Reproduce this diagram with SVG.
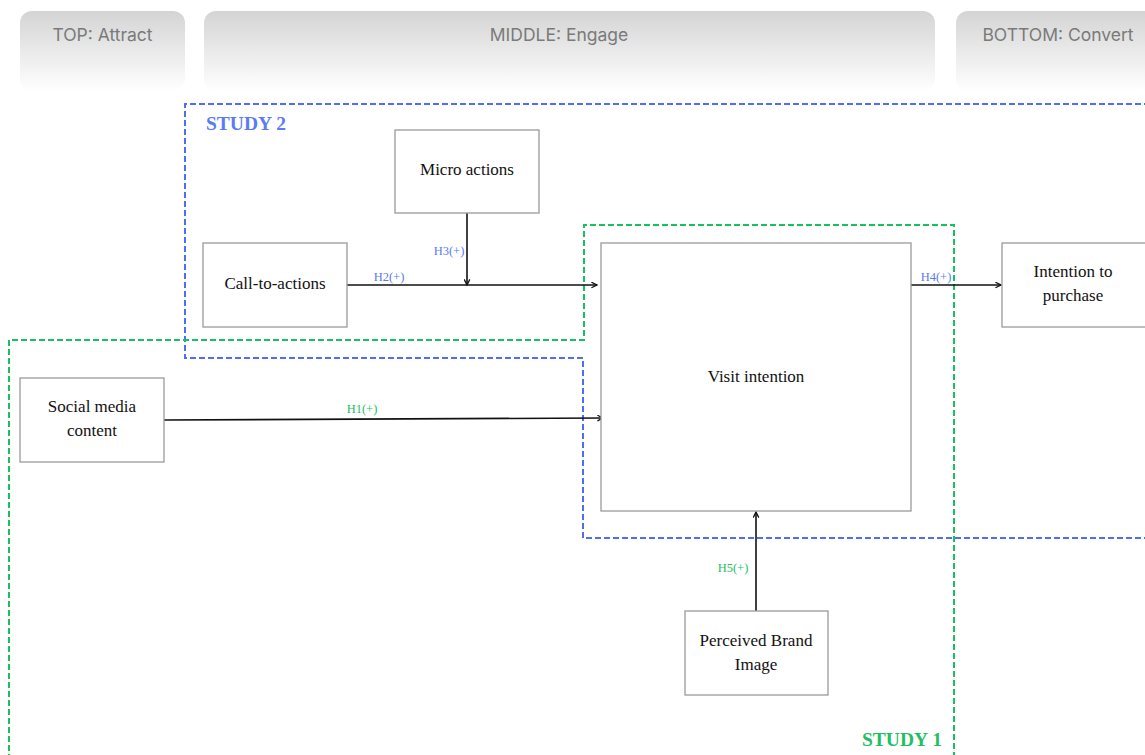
<svg xmlns="http://www.w3.org/2000/svg" width="1145" height="755" viewBox="0 0 1145 755">
  <defs>
    <linearGradient id="hdr" x1="0" y1="0" x2="0" y2="1">
      <stop offset="0" stop-color="#d4d4d4"/>
      <stop offset="1" stop-color="#ffffff"/>
    </linearGradient>
    <marker id="arr" viewBox="0 0 10 10" refX="9" refY="5" markerWidth="7" markerHeight="7" markerUnits="userSpaceOnUse" orient="auto">
      <path d="M1,1 L9,5 L1,9" fill="none" stroke="#111" stroke-width="1.8"/>
    </marker>
    <style>
      .hdr { fill: url(#hdr); }
      .hdr-t { font-family: "Inter", "Liberation Sans", sans-serif; font-size: 17.5px; fill: #7a7a7a; text-anchor: middle; }
      .box { fill: #ffffff; stroke: #9a9a9a; stroke-width: 1.3; }
      .lbl { font-family: "Liberation Serif", serif; font-size: 17px; fill: #111; text-anchor: middle; }
      .edge { fill: none; stroke: #111; stroke-width: 1.6; marker-end: url(#arr); }
      .h { font-family: "Liberation Serif", serif; font-size: 12.5px; }
      .hb { fill: #5b7bf6; }
      .hg { fill: #22bf62; }
      .s2 { fill: none; stroke: #4f6ef7; stroke-width: 2; stroke-dasharray: 6 3; }
      .s1 { fill: none; stroke: #19c060; stroke-width: 2; stroke-dasharray: 6 3; }
      .study { font-family: "Liberation Serif", serif; font-size: 19.5px; font-weight: bold; }
    </style>
  </defs>

  <!-- funnel stage headers -->
  <g id="stage-top">
    <rect class="hdr" x="20" y="11" width="165" height="80" rx="12"/>
    <text class="hdr-t" x="102.5" y="41">TOP: Attract</text>
  </g>
  <g id="stage-middle">
    <rect class="hdr" x="204" y="11" width="731" height="80" rx="12"/>
    <text class="hdr-t" x="559" y="41">MIDDLE: Engage</text>
  </g>
  <g id="stage-bottom">
    <rect class="hdr" x="956" y="11" width="204" height="80" rx="12"/>
    <text class="hdr-t" x="1058" y="41">BOTTOM: Convert</text>
  </g>

  <!-- study boundaries -->
  <g id="study-2">
    <path class="s2" d="M1150,104 H185 V358 H583 V538 H1150"/>
    <text class="study hb" x="206" y="130">STUDY 2</text>
  </g>
  <g id="study-1">
    <path class="s1" d="M9,760 V340 H584 V225 H954 V760"/>
    <text class="study hg" x="862" y="746">STUDY 1</text>
  </g>

  <!-- connectors -->
  <g id="connectors">
    <line class="edge" x1="347" y1="285" x2="597" y2="285"/>
    <line class="edge" x1="467" y1="213" x2="467" y2="285"/>
    <line class="edge" x1="911" y1="285" x2="1001" y2="285"/>
    <line class="edge" x1="164" y1="420" x2="603" y2="418"/>
    <line class="edge" x1="756" y1="611" x2="756" y2="512"/>
    <text class="h hb" x="389" y="281" text-anchor="middle">H2(+)</text>
    <text class="h hb" x="449" y="255" text-anchor="middle">H3(+)</text>
    <text class="h hb" x="936" y="281" text-anchor="middle">H4(+)</text>
    <text class="h hg" x="362" y="413" text-anchor="middle">H1(+)</text>
    <text class="h hg" x="733" y="572" text-anchor="middle">H5(+)</text>
  </g>

  <!-- constructs -->
  <g id="micro-actions">
    <rect class="box" x="395" y="130" width="144" height="83"/>
    <text class="lbl" x="467" y="175">Micro actions</text>
  </g>
  <g id="call-to-actions">
    <rect class="box" x="203" y="243" width="144" height="84"/>
    <text class="lbl" x="275" y="289">Call-to-actions</text>
  </g>
  <g id="visit-intention">
    <rect class="box" x="601" y="243" width="310" height="268"/>
    <text class="lbl" x="756" y="382">Visit intention</text>
  </g>
  <g id="intention-to-purchase">
    <rect class="box" x="1002" y="243" width="160" height="84"/>
    <text class="lbl" x="1073" y="277">Intention to</text>
    <text class="lbl" x="1073" y="301">purchase</text>
  </g>
  <g id="social-media-content">
    <rect class="box" x="20" y="378" width="144" height="84"/>
    <text class="lbl" x="92" y="412">Social media</text>
    <text class="lbl" x="92" y="436">content</text>
  </g>
  <g id="perceived-brand-image">
    <rect class="box" x="685" y="611" width="143" height="84"/>
    <text class="lbl" x="756" y="646">Perceived Brand</text>
    <text class="lbl" x="756" y="670">Image</text>
  </g>
</svg>
